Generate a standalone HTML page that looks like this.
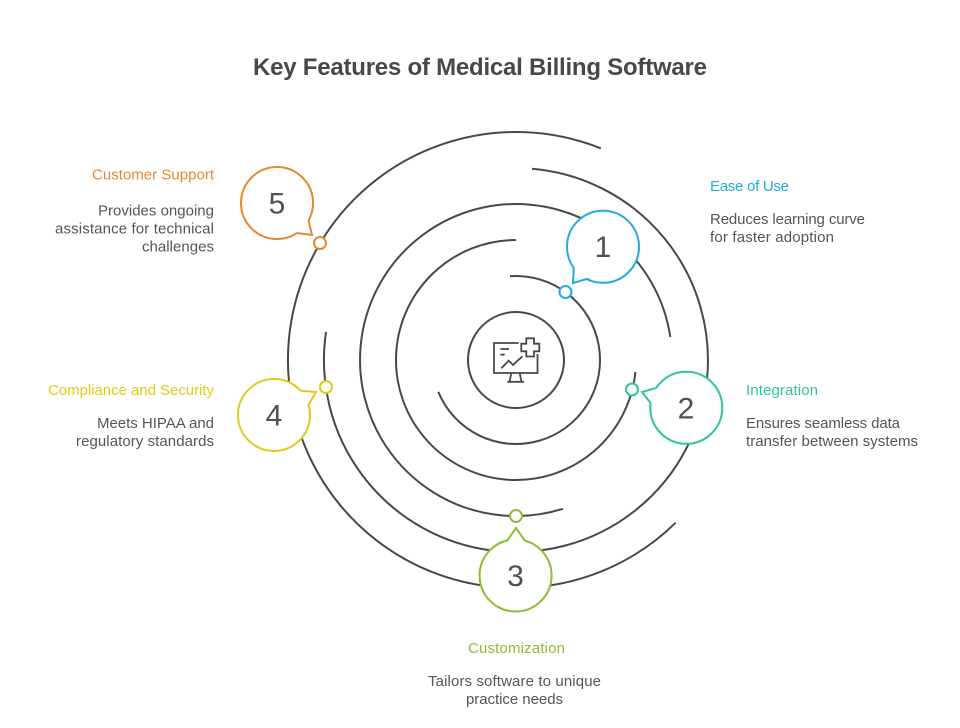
<!DOCTYPE html>
<html>
<head>
<meta charset="utf-8">
<style>
html,body{margin:0;padding:0;background:#fff;}
svg{display:block;}
text{font-family:"Liberation Sans",sans-serif;font-size:15px;fill:#555;}
.t{font-size:24px;font-weight:bold;fill:#484848;}
.n{font-size:30px;fill:#505050;text-anchor:middle;}
.arc{fill:none;stroke:#484848;stroke-width:2;}
.b{fill:#fff;stroke-width:2;}
.w{fill:#fff;stroke:none;}
.l{fill:none;stroke-width:2;stroke-linejoin:miter;}
.d{fill:#fff;stroke-width:2;}
.i{fill:none;stroke:#484848;stroke-width:1.8;}
</style>
</head>
<body>
<svg width="960" height="728" viewBox="0 0 960 728" xmlns="http://www.w3.org/2000/svg">
<rect width="960" height="728" fill="#fff"/>
<text class="t" x="253" y="75" textLength="454" lengthAdjust="spacing">Key Features of Medical Billing Software</text>

<circle class="arc" cx="516" cy="360" r="48"/>
<path class="arc" d="M510,276.200 A84,84 0 1 1 438.300,391.900"/>
<path class="arc" d="M635.400,372 A120,120 0 1 1 516,240"/>
<path class="arc" d="M670.300,337 A156,156 0 1 0 562.900,508.800"/>
<path class="arc" d="M532,168.700 A192,192 0 1 1 326,332"/>
<path class="arc" d="M600.850,148.400 A228,228 0 1 0 675.700,522.700"/>

<!-- center icon -->
<path class="i" d="M518.700,343 H494 V373 H537.500 V354"/>
<path class="i" d="M526.300,338.300 H534 V343.700 H539.300 V351.300 H534 V356.500 H526.300 V351.300 H521.300 V343.700 H526.300 Z"/>
<path class="i" d="M500.300,349 H509 M500.300,354.700 H504.700"/>
<path class="i" d="M501.300,368.300 L508.700,360.700 L513,365 L522.300,356.300"/>
<path class="i" d="M511.300,373 L509.700,381 M519.700,373 L521.300,381 M507.300,381.800 H524"/>

<!-- bubble 1 -->
<circle class="b" stroke="#1fade0" cx="603" cy="246.800" r="36"/>
<path class="w" d="M603,246.800 L573.800,267.800 L573,283 L587.500,279.300 Z"/>
<path class="l" stroke="#1fade0" d="M573.800,267.800 L573,283 L587.500,278.800 L589.500,280.100"/>
<text class="n" x="603" y="257">1</text>
<circle class="d" stroke="#1fade0" cx="565.500" cy="292" r="6"/>

<!-- bubble 2 -->
<circle class="b" stroke="#33c68c" cx="686.300" cy="407.800" r="36"/>
<path class="w" d="M686.300,407.800 L656.500,387.800 L642,392 L650.600,403 Z"/>
<path class="l" stroke="#33c68c" d="M656.500,387.800 L642,392 L650.600,403"/>
<text class="n" x="686" y="418.500">2</text>
<circle class="d" stroke="#33c68c" cx="632" cy="389.500" r="6"/>

<!-- bubble 3 -->
<circle class="b" stroke="#8fba38" cx="515.600" cy="575.500" r="36"/>
<path class="w" d="M515.600,575.500 L507,541 L516,528 L525,541 Z"/>
<path class="l" stroke="#8fba38" d="M507,541 L516,528 L525,541"/>
<text class="n" x="515.500" y="586">3</text>
<circle class="d" stroke="#8fba38" cx="516" cy="516" r="6"/>

<!-- bubble 4 -->
<circle class="b" stroke="#e2c91c" cx="274" cy="415" r="36"/>
<path class="w" d="M274,415 L300.500,390.700 L316,392 L308.500,405 Z"/>
<path class="l" stroke="#e2c91c" d="M300.500,390.700 L316,392 L308.500,405 L309.800,410"/>
<text class="n" x="274" y="425.500">4</text>
<circle class="d" stroke="#e2c91c" cx="326" cy="387" r="6"/>

<!-- bubble 5 -->
<circle class="b" stroke="#e5872e" cx="277" cy="203" r="36"/>
<path class="w" d="M277,203 L308.500,220.500 L312,235 L297,233 Z"/>
<path class="l" stroke="#e5872e" d="M308.500,220.500 L312,235 L297,233"/>
<text class="n" x="277" y="213.500">5</text>
<circle class="d" stroke="#e5872e" cx="320" cy="243" r="6"/>

<!-- labels -->
<text x="710" y="191" style="fill:#1fade0" textLength="79" lengthAdjust="spacing">Ease of Use</text>
<text x="710" y="224" textLength="155" lengthAdjust="spacing">Reduces learning curve</text>
<text x="710" y="242" textLength="124" lengthAdjust="spacing">for faster adoption</text>

<text x="746" y="395" style="fill:#33c68c" textLength="72" lengthAdjust="spacing">Integration</text>
<text x="746" y="428" textLength="154" lengthAdjust="spacing">Ensures seamless data</text>
<text x="746" y="446" textLength="172" lengthAdjust="spacing">transfer between systems</text>

<text x="468" y="653" style="fill:#8fba38" textLength="97" lengthAdjust="spacing">Customization</text>
<text x="428" y="686" textLength="173" lengthAdjust="spacing">Tailors software to unique</text>
<text x="466" y="704" textLength="97" lengthAdjust="spacing">practice needs</text>

<text x="48" y="395" style="fill:#e2c91c" textLength="166" lengthAdjust="spacing">Compliance and Security</text>
<text x="97" y="428" textLength="117" lengthAdjust="spacing">Meets HIPAA and</text>
<text x="76" y="446" textLength="138" lengthAdjust="spacing">regulatory standards</text>

<text x="92" y="179.500" style="fill:#e5872e" textLength="122" lengthAdjust="spacing">Customer Support</text>
<text x="98" y="215.500" textLength="116" lengthAdjust="spacing">Provides ongoing</text>
<text x="55" y="233.500" textLength="159" lengthAdjust="spacing">assistance for technical</text>
<text x="142" y="251.500" textLength="72" lengthAdjust="spacing">challenges</text>
</svg>
</body>
</html>
